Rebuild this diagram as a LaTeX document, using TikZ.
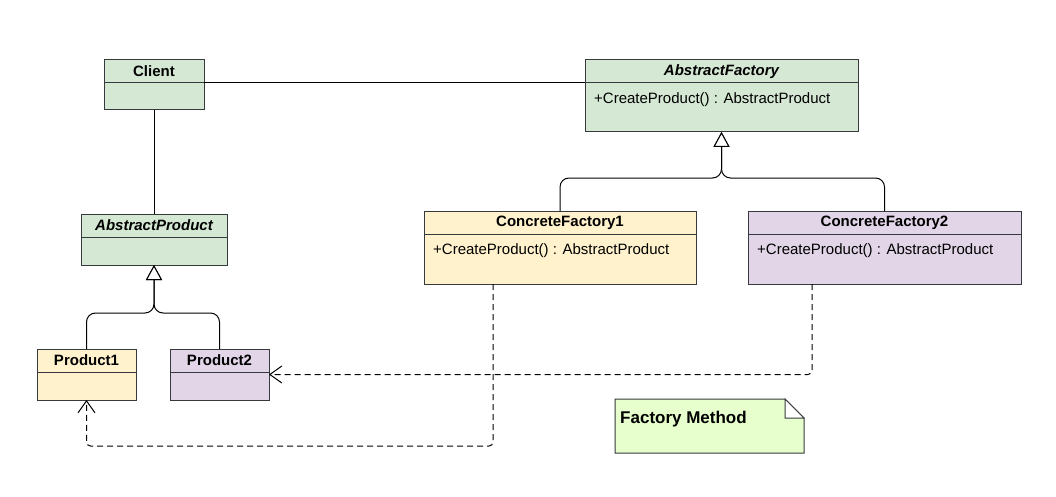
\documentclass[tikz,border=0pt]{standalone}
\usepackage{fontspec}
\setmainfont{Liberation Sans}
\usetikzlibrary{positioning,arrows.meta,calc}
\definecolor{umlgreen}{HTML}{D5E8D4}
\definecolor{umlyellow}{HTML}{FFF2CC}
\definecolor{umlpurple}{HTML}{E1D5E7}
\definecolor{notegreen}{HTML}{E6FFCC}
\definecolor{umlline}{HTML}{36393D}

\begin{document}
\begin{tikzpicture}[x=1pt, y=-1pt, node distance=0pt,
    clshead/.style={draw=umlline, line width=1pt, inner sep=0pt, outer sep=0pt, minimum height=23pt, font=\fontsize{15}{18}\selectfont\bfseries},
    abstr/.style={font=\fontsize{15}{18}\selectfont\bfseries\itshape},
    clsbody/.style={draw=umlline, line width=1pt, inner sep=0pt, outer sep=0pt},
    oplabel/.style={inner sep=0pt, font=\fontsize{15}{18}\selectfont},
    inherit/.style={line width=1pt, rounded corners=9pt, -{Triangle[open, length=15pt, width=16pt, fill=white]}},
    depend/.style={line width=1pt, dash pattern=on 6pt off 4pt, rounded corners=4pt, -{Straight Barb[length=12pt, width=17pt]}}]
    \useasboundingbox (0,0) rectangle (1056,497);

    % Client
    \node[clshead, fill=umlgreen, minimum width=100pt] (clienthd) at (154,71.5) {Client};
    \node[clsbody, fill=umlgreen, minimum width=100pt, minimum height=27pt, below=of clienthd] (clientbd) {};

    % AbstractFactory
    \node[clshead, abstr, fill=umlgreen, minimum width=273pt] (afhd) at (721.5,71.5) {AbstractFactory};
    \node[clsbody, fill=umlgreen, minimum width=273pt, minimum height=49pt, below=of afhd] (afbd) {};
    \node[oplabel, below right=9pt and 9pt of afbd.north west] (afop) {+CreateProduct() : AbstractProduct};
    \draw[line width=1pt] (clienthd.south east) -- (afhd.south west);

    % AbstractProduct
    \node[clshead, abstr, fill=umlgreen, minimum width=146pt] (aphd) at (154,225.5) {AbstractProduct};
    \node[clsbody, fill=umlgreen, minimum width=146pt, minimum height=28pt, below=of aphd] (apbd) {};
    \draw[line width=1pt] (clientbd.south) -- (aphd.north);

    % ConcreteFactory1
    \node[clshead, fill=umlyellow, minimum width=272pt] (cf1hd) at (560,222.5) {ConcreteFactory1};
    \node[clsbody, fill=umlyellow, minimum width=272pt, minimum height=50pt, below=of cf1hd] (cf1bd) {};
    \node[oplabel, below right=9pt and 9pt of cf1bd.north west] (cf1op) {+CreateProduct() : AbstractProduct};

    % ConcreteFactory2
    \node[clshead, fill=umlpurple, minimum width=273pt] (cf2hd) at (884.5,222.5) {ConcreteFactory2};
    \node[clsbody, fill=umlpurple, minimum width=273pt, minimum height=50pt, below=of cf2hd] (cf2bd) {};
    \node[oplabel, below right=9pt and 9pt of cf2bd.north west] (cf2op) {+CreateProduct() : AbstractProduct};

    % Product1 / Product2
    \node[clshead, fill=umlyellow, minimum width=99pt] (p1hd) at (86.5,360.5) {Product1};
    \node[clsbody, fill=umlyellow, minimum width=99pt, minimum height=28pt, below=of p1hd] (p1bd) {};
    \node[clshead, fill=umlpurple, minimum width=99pt] (p2hd) at (219.5,360.5) {Product2};
    \node[clsbody, fill=umlpurple, minimum width=99pt, minimum height=28pt, below=of p2hd] (p2bd) {};

    % inheritance
    \coordinate (afjoin) at (721.5,178);
    \draw[inherit] (cf1hd.north) |- (afjoin) -- (afbd.south);
    \draw[inherit] (cf2hd.north) |- (afjoin) -- (afbd.south);
    \coordinate (apjoin) at (154,313);
    \draw[inherit] (p1hd.north) |- (apjoin) -- (apbd.south);
    \draw[inherit] (p2hd.north) |- (apjoin) -- (apbd.south);

    % dependencies
    \coordinate (cf2out) at ($(cf2bd.south west)+(64,0)$);
    \coordinate (p2mid) at ($(p2hd.north east)!0.5!(p2bd.south east)$);
    \draw[depend] (cf2out) |- (p2mid);
    \coordinate (cf1out) at ($(cf1bd.south west)+(69,0)$);
    \coordinate (depturn) at ($(cf1out)+(0,162)$);
    \draw[depend] (cf1out) -- (depturn) -| (p1bd.south);

    % note
    \node[minimum width=189pt, minimum height=54pt, inner sep=0pt, outer sep=0pt] (note) at (709.5,426) {};
    \draw[draw=umlline, fill=notegreen, line width=1pt] (note.north west) -- ($(note.north east)+(-19,0)$) -- ($(note.north east)+(0,19)$) -- (note.south east) -- (note.south west) -- cycle;
    \draw[draw=umlline, fill=white, line width=1pt] ($(note.north east)+(-19,0)$) -- ($(note.north east)+(-19,19)$) -- ($(note.north east)+(0,19)$) -- cycle;
    \node[inner sep=0pt, font=\fontsize{17}{20}\selectfont\bfseries, below right=12pt and 5pt of note.north west] (notetxt) {Factory Method};
\end{tikzpicture}
\end{document}
